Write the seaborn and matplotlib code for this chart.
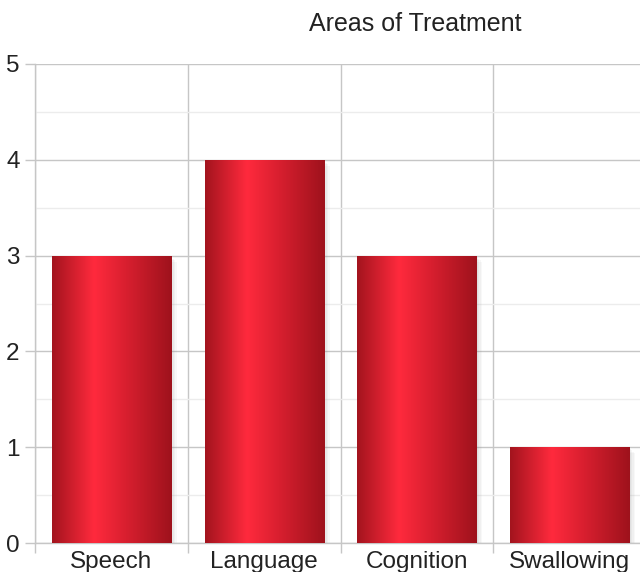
import numpy as np
import pandas as pd
import matplotlib
matplotlib.use("Agg")
import matplotlib.pyplot as plt
from matplotlib.colors import LinearSegmentedColormap
from matplotlib.patches import Rectangle
import seaborn as sns

categories = ["Speech", "Language", "Cognition", "Swallowing"]
values = [3, 4, 3, 1]
title = "Areas of Treatment"

sns.set_theme(style="white")
plt.rcParams['font.family'] = ['Liberation Sans', 'DejaVu Sans']

df = pd.DataFrame({"area": categories, "count": values})

fig = plt.figure(figsize=(6.4, 5.72), dpi=100)
ax = fig.add_axes([35/640, 1-543/572, 611/640, (543-64)/572])

sns.barplot(data=df, x="area", y="count", ax=ax, width=0.78, color="#d61f2e",
            saturation=1, zorder=3)

ax.set_xlim(-0.5, 3.5)
ax.set_ylim(0, 5)

cmap = LinearSegmentedColormap.from_list(
    "redgrad",
    [(0.0, "#a3141e"), (0.35, "#ff2a3d"), (0.62, "#d81f2f"), (1.0, "#9e121c")])
grad = np.linspace(0, 1, 256).reshape(1, -1)

dx = 4.0 / 611
dy = 5.0 / 479
for p in list(ax.patches):
    x0, y0 = p.get_x(), p.get_y()
    w, h = p.get_width(), p.get_height()
    for k, a in [(6, 0.05), (4.5, 0.06), (3, 0.07), (1.5, 0.08)]:
        sh = Rectangle((x0 + dx * k, y0 - dy * k), w, h, facecolor="#808080",
                       edgecolor="none", alpha=a, zorder=2)
        ax.add_patch(sh)
    p.set_edgecolor("none")
    im = ax.imshow(grad, cmap=cmap, aspect="auto", extent=(x0, x0 + w, y0, y0 + h),
                   zorder=3.5, interpolation="bicubic")
    im.set_clip_path(p)

ax.set_xlim(-0.5, 3.5)
ax.set_ylim(0, 5)

ax.set_xlabel("")
ax.set_ylabel("")
ax.set_yticks([0, 1, 2, 3, 4, 5])
ax.set_yticks([0.5, 1.5, 2.5, 3.5, 4.5], minor=True)
ax.set_xticks([0, 1, 2, 3])
ax.set_xticklabels(categories)
ax.set_xticks([-0.5, 0.5, 1.5, 2.5, 3.5], minor=True)

ax.grid(False)
ax.grid(which="major", axis="y", color="#c6c6c6", linewidth=1.0, zorder=0)
ax.grid(which="minor", axis="y", color="#ececec", linewidth=1.0, zorder=0)
ax.grid(which="minor", axis="x", color="#c6c6c6", linewidth=1.0, zorder=0)
ax.set_axisbelow(True)

ax.tick_params(axis="y", which="major", length=7, width=1, color="#c6c6c6",
               labelsize=17.5, pad=4, labelcolor="#222222", left=True)
ax.tick_params(axis="y", which="minor", length=0)
ax.tick_params(axis="x", which="major", length=0, labelsize=17.5, pad=6,
               labelcolor="#222222")
ax.tick_params(axis="x", which="minor", length=7, width=1, color="#c6c6c6",
               bottom=True)

for s in ["top", "right"]:
    ax.spines[s].set_visible(False)
for s in ["left", "bottom"]:
    ax.spines[s].set_visible(True)
    ax.spines[s].set_color("#c6c6c6")
    ax.spines[s].set_linewidth(1.0)

fig.text(415/640, 1-31/572, title, ha="center", va="baseline", fontsize=18,
         color="#222222")

fig.savefig("out.png", dpi=100)
